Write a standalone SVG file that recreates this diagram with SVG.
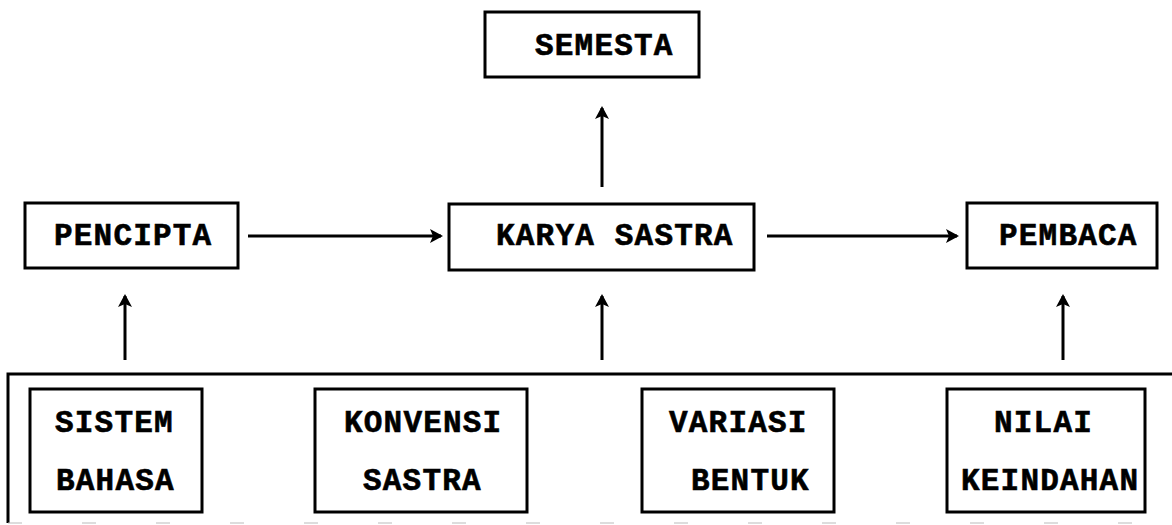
<svg xmlns="http://www.w3.org/2000/svg" width="1172" height="525" viewBox="0 0 1172 525">
<defs>
<style>
.box{fill:#fff;stroke:#000;stroke-width:3}
.t{font-family:"Liberation Mono","Courier New",monospace;font-weight:bold;font-size:31px;letter-spacing:1.2px;fill:#000;stroke:#000;stroke-width:0.6}
.c{stroke:#000;stroke-width:3;fill:none;marker-end:url(#ah)}
</style>
<marker id="ah" markerWidth="16" markerHeight="16" refX="11" refY="7" orient="auto" markerUnits="userSpaceOnUse">
<path d="M0,0 L13,7 L0,14 L3,7 Z" fill="#000"/>
</marker>
</defs>
<rect width="1172" height="525" fill="#fff"/>
<g id="frame">
<path d="M1172,374 L8,374 L8,523" fill="none" stroke="#000" stroke-width="3"/>
<path d="M8,523 L1172,523" fill="none" stroke="#bbb" stroke-width="1.2" stroke-dasharray="14,60"/>
</g>
<g id="semesta"><rect class="box" x="485" y="12" width="214" height="65"/><text class="t" x="535" y="55">SEMESTA</text></g>
<g id="pencipta"><rect class="box" x="25" y="203" width="213" height="65"/><text class="t" x="54" y="245">PENCIPTA</text></g>
<g id="karya"><rect class="box" x="449" y="204" width="305" height="66"/><text class="t" x="496" y="245">KARYA SASTRA</text></g>
<g id="pembaca"><rect class="box" x="967" y="203" width="190" height="65"/><text class="t" x="999" y="245">PEMBACA</text></g>
<g id="sistem"><rect class="box" x="30" y="389" width="172" height="123"/><text class="t" x="55" y="432">SISTEM</text><text class="t" x="56" y="490">BAHASA</text></g>
<g id="konvensi"><rect class="box" x="315" y="389" width="212" height="123"/><text class="t" x="344" y="432">KONVENSI</text><text class="t" x="363" y="490">SASTRA</text></g>
<g id="variasi"><rect class="box" x="642" y="389" width="192" height="123"/><text class="t" x="669" y="432">VARIASI</text><text class="t" x="691" y="490">BENTUK</text></g>
<g id="nilai"><rect class="box" x="947" y="389" width="198" height="123"/><text class="t" x="994" y="432">NILAI</text><text class="t" x="961" y="490">KEINDAHAN</text></g>
<g id="connectors">
<line class="c" x1="602" y1="187" x2="602" y2="108"/>
<line class="c" x1="248" y1="236" x2="441" y2="236"/>
<line class="c" x1="767" y1="236" x2="957" y2="236"/>
<line class="c" x1="125" y1="360" x2="125" y2="296"/>
<line class="c" x1="602" y1="360" x2="602" y2="296"/>
<line class="c" x1="1063" y1="360" x2="1063" y2="296"/>
</g>
</svg>
